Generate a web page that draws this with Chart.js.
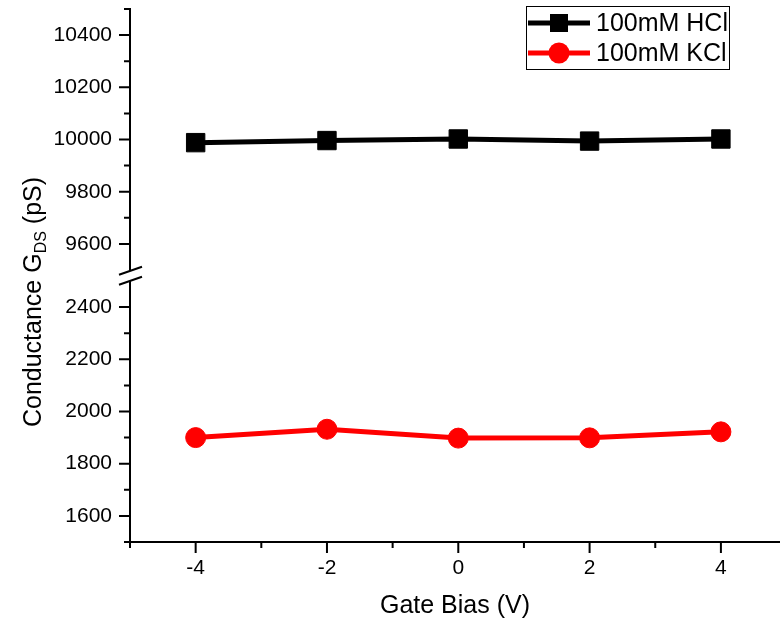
<!DOCTYPE html>
<html>
<head>
<meta charset="utf-8">
<script src="https://cdn.jsdelivr.net/npm/chart.js@4.4.1/dist/chart.umd.min.js"></script>
<style>
  html, body { margin: 0; padding: 0; background: #fff; }
  #wrap { width: 780px; height: 622px; }
</style>
</head>
<body>
<div id="wrap"><canvas id="grafico" width="780" height="622"></canvas></div>
<script>
// Datos
const gateBias = [-4, -2, 0, 2, 4];
const hclValues = [9988, 9996, 10002, 9994, 10002];
const kclValues = [1900, 1932, 1898, 1899, 1922];
const seriesNames = ['100mM HCl', '100mM KCl'];
const xTitle = 'Gate Bias (V)';
const yTitle = ['Conductance G', 'DS', ' (pS)'];

// Etiquetas de los ejes
const upperTicks = [9600, 9800, 10000, 10200, 10400];
const lowerTicks = [1600, 1800, 2000, 2200, 2400];
const xTicks = [-5, -4, -3, -2, -1, 0, 1, 2, 3, 4];

// Rangos del eje Y partido (tramo superior e inferior) y del eje X
const upperRange = [9478, 10500];
const lowerRange = [1500, 2520];
const xRange = [-5, 4.9];

const FONT = "'Liberation Sans', Arial, sans-serif";

// Dibuja ejes, marcas menores/mayores, el corte del eje, la leyenda y el título Y
const axesPlugin = {
    id: 'axes',
    afterDraw(chart) {
        const ctx = chart.ctx;
        const xs = chart.scales.x;
        const up = chart.scales.yTop;
        const lo = chart.scales.y;
        const area = chart.chartArea;
        const left = area.left;
        const bottom = area.bottom;
        const junc = up.bottom;

        ctx.save();
        ctx.strokeStyle = '#000';
        ctx.lineWidth = 2;
        ctx.beginPath();
        // eje Y (dos tramos)
        ctx.moveTo(left, up.top - 1);
        ctx.lineTo(left, junc - 5);
        ctx.moveTo(left, junc + 5);
        ctx.lineTo(left, bottom);
        // eje X
        ctx.moveTo(left - 1, bottom);
        ctx.lineTo(area.right, bottom);

        // marcas del eje Y superior
        for (let v = 9600; v <= upperRange[1]; v += 100) {
            const y = up.getPixelForValue(v);
            const len = v % 200 === 0 ? 11 : 6;
            ctx.moveTo(left, y);
            ctx.lineTo(left - len, y);
        }
        // marcas del eje Y inferior
        for (let v = lowerRange[0]; v <= 2400; v += 100) {
            const y = lo.getPixelForValue(v);
            const len = v % 200 === 0 ? 11 : 6;
            ctx.moveTo(left, y);
            ctx.lineTo(left - len, y);
        }
        // marcas del eje X
        xTicks.forEach(v => {
            const x = xs.getPixelForValue(v);
            const len = v % 2 === 0 ? 11 : 6;
            ctx.moveTo(x, bottom);
            ctx.lineTo(x, bottom + len);
        });
        ctx.stroke();

        // símbolo de corte //
        ctx.beginPath();
        [junc - 5, junc + 5].forEach(yy => {
            ctx.moveTo(left - 11, yy + 4);
            ctx.lineTo(left + 12, yy - 4);
        });
        ctx.stroke();

        // Leyenda
        ctx.lineWidth = 1;
        ctx.strokeRect(526.5, 6.5, 203, 63);
        const rows = [23, 53];
        chart.data.datasets.forEach((ds, i) => {
            const y = rows[i];
            ctx.strokeStyle = ds.borderColor;
            ctx.lineWidth = 5;
            ctx.beginPath();
            ctx.moveTo(528, y);
            ctx.lineTo(590, y);
            ctx.stroke();
            ctx.fillStyle = ds.pointBackgroundColor;
            if (ds.pointStyle === 'rect') {
                ctx.fillRect(550, y - 9, 18, 18);
            } else {
                ctx.beginPath();
                ctx.arc(559, y, 10.5, 0, Math.PI * 2);
                ctx.fill();
            }
            ctx.fillStyle = '#000';
            ctx.font = '25px ' + FONT;
            ctx.textBaseline = 'middle';
            ctx.textAlign = 'left';
            ctx.fillText(ds.label, 596, y + 1);
        });

        // Título del eje Y con subíndice
        ctx.fillStyle = '#000';
        ctx.textBaseline = 'alphabetic';
        const big = '25px ' + FONT;
        const small = '16px ' + FONT;
        ctx.font = big;
        const w1 = ctx.measureText(yTitle[0]).width;
        const w3 = ctx.measureText(yTitle[2]).width;
        ctx.font = small;
        const w2 = ctx.measureText(yTitle[1]).width;
        const total = w1 + w2 + w3;
        ctx.translate(41, 302);
        ctx.rotate(-Math.PI / 2);
        const x0 = -total / 2;
        ctx.font = big;
        ctx.fillText(yTitle[0], x0, 0);
        ctx.font = small;
        ctx.fillText(yTitle[1], x0 + w1, 5);
        ctx.font = big;
        ctx.fillText(yTitle[2], x0 + w1 + w2, 0);
        ctx.restore();
    }
};

const tickFont = { family: FONT, size: 21 };

function yAxis(range, ticks) {
    return {
        type: 'linear',
        position: 'left',
        stack: 'gds',
        stackWeight: range[1] - range[0],
        min: range[0],
        max: range[1],
        grid: { display: false, drawTicks: false },
        border: { display: false },
        afterBuildTicks: s => { s.ticks = ticks.map(v => ({ value: v })); },
        ticks: {
            padding: 18,
            color: '#000',
            font: tickFont,
            callback: v => String(v)
        },
        afterFit: s => {
            s.width = 130;
            s.paddingTop = 0;
            s.paddingBottom = 0;
        }
    };
}

const ctx = document.getElementById('grafico').getContext('2d');
const myChart = new Chart(ctx, {
    type: 'line',
    data: {
        datasets: [{
            label: seriesNames[0],
            data: gateBias.map((x, i) => ({ x: x, y: hclValues[i] })),
            yAxisID: 'yTop',
            borderColor: '#000000',
            backgroundColor: '#000000',
            borderWidth: 5,
            pointStyle: 'rect',
            pointRadius: 13,
            pointBorderWidth: 1,
            pointBackgroundColor: '#000000',
            pointBorderColor: '#000000',
            tension: 0
        }, {
            label: seriesNames[1],
            data: gateBias.map((x, i) => ({ x: x, y: kclValues[i] })),
            yAxisID: 'y',
            borderColor: '#ff0000',
            backgroundColor: '#ff0000',
            borderWidth: 5,
            pointStyle: 'circle',
            pointRadius: 10,
            pointBorderWidth: 1,
            pointBackgroundColor: '#ff0000',
            pointBorderColor: '#ff0000',
            tension: 0
        }]
    },
    options: {
        responsive: false,
        animation: false,
        devicePixelRatio: 1,
        layout: { autoPadding: false, padding: { top: 9, left: 0, right: 0, bottom: 0 } },
        plugins: {
            legend: { display: false },
            tooltip: { enabled: false }
        },
        scales: {
            x: {
                type: 'linear',
                min: xRange[0],
                max: xRange[1],
                grid: { display: false, drawTicks: false },
                border: { display: false },
                afterBuildTicks: s => { s.ticks = xTicks.map(v => ({ value: v })); },
                ticks: {
                    autoSkip: false,
                    maxRotation: 0,
                    padding: 14,
                    color: '#000',
                    font: tickFont,
                    callback: v => (v % 2 === 0 ? String(v) : '')
                },
                title: {
                    display: true,
                    text: xTitle,
                    color: '#000',
                    font: { family: FONT, size: 25 },
                    padding: { top: 0, bottom: 1 }
                },
                afterFit: s => {
                    s.height = 80;
                    s.paddingLeft = 0;
                    s.paddingRight = 0;
                }
            },
            // el tramo inferior va primero: la pila izquierda se coloca en orden inverso
            y: yAxis(lowerRange, lowerTicks),
            yTop: yAxis(upperRange, upperTicks)
        }
    },
    plugins: [axesPlugin]
});
</script>
</body>
</html>
